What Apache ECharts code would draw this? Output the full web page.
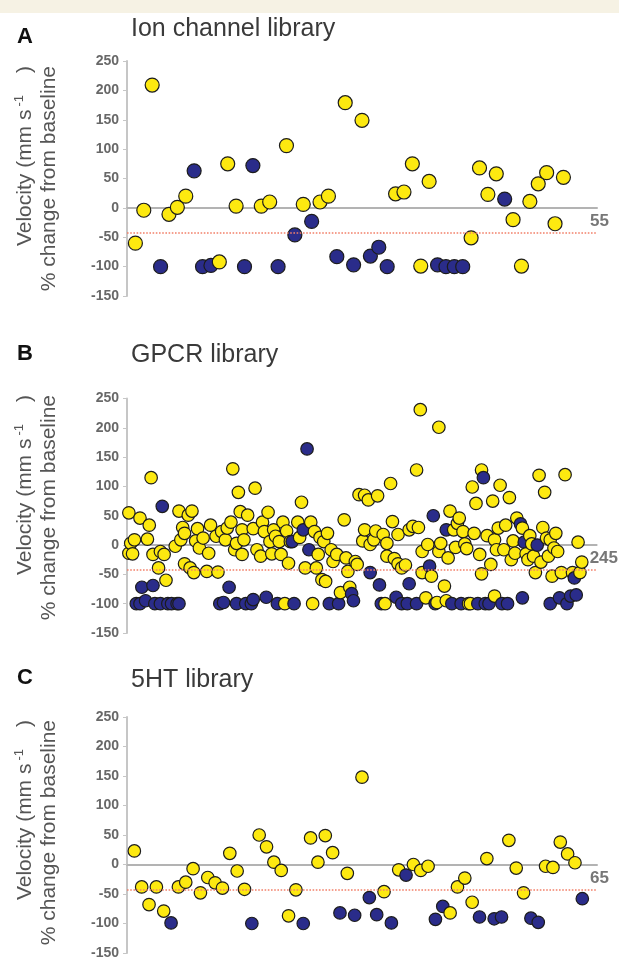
<!DOCTYPE html>
<html>
<head>
<meta charset="utf-8">
<title>Velocity screens</title>
<script src="https://cdn.jsdelivr.net/npm/echarts@6/dist/echarts.min.js"></script>
<style>
html, body { margin: 0; padding: 0; background: #fff; }
#chart { width: 619px; height: 961px; }
</style>
</head>
<body>
<div id="chart"></div>
<script>
// A: ion channel library, one compound per position (1..n)
var ionVelocity = [-60, -4, 209, -100, -11, 1, 20, 63, -100, -98, -92, 75, 3, -100, 72, 3, 10, -100, 106, -46,
  6, -23, 10, 20, -83, 179, -97, 149, -82, -67, -100, 24, 27, 75, -99, 45, -97, -100, -100, -100,
  -51, 68, 23, 58, 15, -20, -99, 11, 41, 60, -27, 52];
var ionBlocked = [0, 0, 0, 1, 0, 0, 0, 1, 1, 1, 0, 0, 0, 1, 1, 0, 0, 1, 0, 1,
  0, 1, 0, 0, 1, 0, 1, 0, 1, 1, 1, 0, 0, 0, 0, 0, 1, 1, 1, 1,
  0, 0, 0, 0, 1, 0, 0, 0, 0, 0, 0, 0];
var ionCount = 55;

// B: GPCR library, too dense for one per slot -> positions
var gpcrIndex = [1, 1, 2, 3, 4, 5, 7, 7, 8, 10, 11, 12, 13, 14, 14, 15, 17, 18, 18, 19,
  20, 21, 22, 24, 26, 27, 28, 28, 29, 30, 31, 31, 33, 34, 35, 36, 37, 38, 39, 41,
  43, 44, 45, 48, 49, 50, 51, 52, 53, 54, 55, 56, 57, 58, 59, 59, 60, 61, 62, 62,
  63, 64, 65, 67, 68, 68, 69, 70, 72, 73, 74, 75, 76, 77, 78, 79, 80, 81, 82, 83,
  84, 85, 86, 87, 88, 89, 90, 92, 93, 94, 95, 96, 97, 98, 99, 100, 101, 102, 103, 104,
  105, 106, 107, 108, 109, 110, 111, 113, 114, 115, 117, 118, 119, 120, 121, 122, 123, 124, 125, 127,
  128, 128, 130, 131, 131, 133, 134, 135, 136, 137, 138, 139, 140, 140, 142, 143, 144, 145, 146, 146,
  148, 148, 150, 151, 152, 152, 154, 156, 156, 157, 158, 159, 159, 161, 162, 163, 164, 165, 166, 167,
  168, 168, 169, 171, 172, 172, 173, 174, 175, 176, 177, 178, 179, 180, 181, 182, 183, 184, 185, 186,
  187, 188, 189, 190, 191, 191, 192, 193, 194, 195, 196, 197, 198, 198, 199, 200, 201, 202, 203, 204,
  205, 206, 207, 208, 209, 210, 212, 213, 213, 214, 215, 216, 217, 218, 219, 220, 221, 222, 223, 224,
  225, 226, 227, 228, 228, 229, 230, 231, 232, 233, 234, 236, 237, 239, 240, 241, 242, 243, 244, 245];
var gpcrVelocity = [55, -14, 3, -15, 9, -100, 46, -100, -72, -95, 10, 34, 115, -16, -69, -100, -39, -100, -11, 66,
  -16, -60, -100, -100, -2, -100, 58, -100, 9, 30, 20, -32, 51, -39, 58, -47, 7, 28, -5, 12,
  -45, -14, 34, 15, -46, -100, 23, -98, 9, 29, -72, 39, 130, -8, -100, 3, 90, 57, -16, 26,
  9, -100, 51, -100, 28, -93, 97, -8, -19, 39, 23, -89, 56, 6, -15, 26, 15, -100, 6, -16,
  39, -100, 24, -31, 6, 6, -100, 39, 13, 73, 26, -39, 164, -8, 39, -100, 23, -39, -16, 13,
  -59, 6, -62, 20, -100, -8, -28, -16, -100, -81, 43, -22, -45, -72, -83, -95, -28, -33, 86, 7,
  85, 26, 77, 1, -47, 9, 24, 84, -68, -100, 18, -100, 3, -19, 105, 40, -23, -89, 18, -32,
  -39, -100, -34, -100, 26, -66, 32, 128, -100, 30, 231, -11, -47, -90, 1, -36, -53, 50, -100, -98,
  201, -11, 3, -70, 26, -95, -22, 58, -100, 26, -4, 37, 46, -100, 23, 2, -6, -100, -100, 99,
  20, 71, -100, -16, 128, -49, 115, -100, 16, -100, -33, 75, 9, -87, -8, 29, 102, -100, -8, 34,
  -100, 81, -25, 7, -14, 46, 36, 29, -90, 5, -15, -25, 16, 2, -19, -47, 0, 119, -29, 30,
  90, 12, -19, 9, -100, -53, -5, 20, -11, -90, -47, 120, -100, -87, -47, -56, -85, 5, -47, -29];
var gpcrBlocked = [0, 0, 0, 0, 0, 1, 0, 1, 1, 1, 0, 0, 0, 0, 1, 1, 0, 1, 0, 1,
  0, 0, 1, 1, 0, 1, 0, 1, 0, 0, 0, 0, 0, 0, 0, 0, 0, 0, 0, 0,
  0, 0, 0, 0, 0, 1, 0, 1, 0, 0, 1, 0, 0, 0, 1, 0, 0, 0, 0, 0,
  0, 1, 0, 1, 0, 1, 0, 0, 0, 0, 0, 1, 0, 0, 0, 0, 0, 1, 0, 0,
  0, 0, 0, 0, 0, 1, 1, 0, 0, 0, 1, 0, 1, 1, 0, 0, 0, 0, 0, 0,
  0, 0, 0, 0, 1, 0, 0, 0, 1, 0, 0, 0, 0, 0, 1, 1, 0, 0, 0, 0,
  0, 0, 0, 0, 1, 0, 0, 0, 1, 1, 0, 0, 0, 0, 0, 0, 0, 1, 0, 0,
  0, 1, 0, 1, 0, 1, 0, 0, 1, 0, 0, 0, 0, 0, 0, 1, 0, 1, 1, 0,
  0, 0, 0, 0, 1, 0, 0, 0, 1, 0, 0, 0, 0, 1, 0, 0, 0, 0, 0, 0,
  0, 0, 1, 0, 0, 0, 1, 1, 0, 1, 0, 0, 0, 0, 0, 0, 0, 1, 0, 0,
  1, 0, 0, 0, 0, 0, 1, 0, 1, 1, 0, 0, 0, 0, 0, 0, 1, 0, 0, 0,
  0, 0, 0, 0, 1, 0, 0, 0, 0, 1, 0, 0, 1, 1, 0, 1, 1, 0, 0, 0];
var gpcrCount = 245;

// C: 5HT library, one compound per position
var htVelocity = [23, -38, -68, -38, -79, -99, -38, -30, -7, -48, -22, -31, -40, 19, -11, -42, -100, 50, 30, 4,
  -10, -87, -43, -100, 45, 4, 49, 20, -82, -15, -86, 148, -56, -85, -46, -99, -9, -18, 0, -10,
  -3, -93, -71, -82, -38, -23, -64, -89, 10, -92, -89, 41, -6, -48, -91, -98, -3, -5, 38, 18,
  3, -58];
var htBlocked = [0, 0, 0, 0, 0, 1, 0, 0, 0, 0, 0, 0, 0, 0, 0, 0, 1, 0, 0, 0,
  0, 0, 0, 1, 0, 0, 0, 0, 1, 0, 1, 0, 1, 1, 0, 1, 0, 1, 0, 0,
  0, 1, 1, 0, 0, 0, 0, 1, 0, 1, 1, 0, 0, 0, 1, 1, 0, 0, 0, 0,
  0, 1];
var htCount = 65;

var thresholdLine = -42;
var panelLetters = ['A', 'B', 'C'];
var panelTitles = ['Ion channel library', 'GPCR library', '5HT library'];

var yellow = '#fde910';
var navy = '#2a2c8a';
var narrow = '"Liberation Sans Narrow", "Arial Narrow", "Liberation Sans", sans-serif';
var sans = '"Liberation Sans", Arial, Helvetica, sans-serif';

function inOrder(vals, blocked) {
  return vals.map(function (v, i) { return [i + 1, v, blocked[i]]; });
}
function atIndex(idx, vals, blocked) {
  return idx.map(function (x, i) { return [x, vals[i], blocked[i]]; });
}

var panels = [
  { top: 61, height: 235, xMax: 56, size: 14, count: ionCount,
    pts: inOrder(ionVelocity, ionBlocked), letterTop: 21, titleTop: 12, nameEnd: 66 },
  { top: 398.5, height: 234.5, xMax: 253, size: 12.5, count: gpcrCount,
    pts: atIndex(gpcrIndex, gpcrVelocity, gpcrBlocked), letterTop: 338, titleTop: 338, nameEnd: 395 },
  { top: 717, height: 236, xMax: 64, size: 12.5, count: htCount,
    pts: inOrder(htVelocity, htBlocked), letterTop: 662, titleTop: 663, nameEnd: 720 }
];

var grids = [], xAxes = [], yAxes = [], series = [], titles = [], graphics = [];

graphics.push({ type: 'rect', left: 0, top: 0, shape: { width: 619, height: 13 },
  style: { fill: '#f6f2e4' }, silent: true });

var nameFont = { fontFamily: sans, fontSize: 21, fill: '#555' };

panels.forEach(function (p, i) {
  grids.push({ left: 127, top: p.top, width: 470, height: p.height });

  xAxes.push({
    gridIndex: i, type: 'value', min: 0, max: p.xMax,
    axisLine: { show: true, onZero: true, lineStyle: { color: '#b3b3b3', width: 2 } },
    axisTick: { show: false }, axisLabel: { show: false }, splitLine: { show: false },
    name: String(p.count), nameLocation: 'end', nameGap: -7,
    nameTextStyle: { color: '#777', fontSize: 17, fontWeight: 'bold', fontFamily: narrow,
      align: 'left', verticalAlign: 'top', padding: [5, 0, 0, 0] }
  });

  yAxes.push({
    gridIndex: i, type: 'value', min: -150, max: 250, interval: 50,
    axisLine: { show: true, onZero: false, lineStyle: { color: '#c6c6c6', width: 2 } },
    axisTick: { show: true, length: 4, lineStyle: { color: '#c6c6c6', width: 1 } },
    axisLabel: { color: '#686868', fontSize: 14, fontWeight: 'bold', fontFamily: narrow, margin: 8 },
    splitLine: { show: false }
  });

  // threshold drawn under the dots
  series.push({
    type: 'line', xAxisIndex: i, yAxisIndex: i, data: [], z: 1, silent: true,
    markLine: {
      silent: true, symbol: ['none', 'none'], label: { show: false },
      lineStyle: { color: '#f2806a', type: 'dotted', width: 1.6 },
      data: [{ yAxis: thresholdLine }]
    }
  });

  series.push({
    type: 'scatter', xAxisIndex: i, yAxisIndex: i, z: 3,
    symbolSize: p.size,
    data: p.pts.slice().sort(function (a, b) { return a[0] - b[0]; }),
    itemStyle: {
      color: function (d) { return d.data[2] ? navy : yellow; },
      borderColor: '#1c1c1c', borderWidth: 1.2, opacity: 1
    }
  });

  titles.push({ text: panelLetters[i], left: 12, top: p.letterTop,
    textStyle: { fontFamily: sans, fontSize: 22, fontWeight: 'bold', color: '#111' } });
  titles.push({ text: panelTitles[i], left: 126, top: p.titleTop,
    textStyle: { fontFamily: sans, fontSize: 25, fontWeight: 'normal', color: '#3a3a3a' } });

  // y axis name, two lines, both ending near the top of the axis
  graphics.push({
    type: 'text', x: 25, y: p.nameEnd, rotation: Math.PI / 2, silent: true,
    style: {
      text: '{a|Velocity (mm s}{b|-1}{a|)}', align: 'right', verticalAlign: 'middle',
      rich: {
        a: { fontFamily: sans, fontSize: 21, fill: '#555', lineHeight: 24 },
        b: { fontFamily: sans, fontSize: 13, fill: '#555', verticalAlign: 'top', lineHeight: 24,
          padding: [0, 22, 0, 3] }
      }
    }
  });
  graphics.push({
    type: 'text', x: 49, y: p.nameEnd, rotation: Math.PI / 2, silent: true,
    style: Object.assign({ text: '% change from baseline', align: 'right', verticalAlign: 'middle' }, nameFont)
  });
});

var chart = echarts.init(document.getElementById('chart'), null, { renderer: 'canvas' });
chart.setOption({
  animation: false,
  backgroundColor: '#fff',
  title: titles,
  grid: grids,
  xAxis: xAxes,
  yAxis: yAxes,
  series: series,
  graphic: graphics
});
window.addEventListener('resize', function () { chart.resize(); });
</script>
</body>
</html>
